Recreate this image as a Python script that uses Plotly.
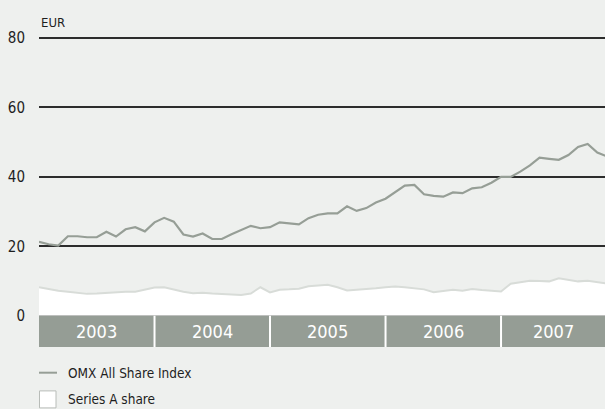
import plotly.graph_objects as go

# ---- data (monthly, Jan 2003 onwards) ----
months = list(range(60))
omx_index = [21.3, 20.6, 20.2, 22.9, 22.9, 22.6, 22.6, 24.2, 22.8, 24.9, 25.5, 24.3,
             26.9, 28.2, 27.1, 23.4, 22.8, 23.7, 22.1, 22.1, 23.5, 24.8, 25.9, 25.2,
             25.5, 26.9, 26.5, 26.3, 28.1, 29.1, 29.5, 29.5, 31.5, 30.2, 31.0, 32.6,
             33.7, 35.5, 37.5, 37.7, 35.0, 34.5, 34.3, 35.5, 35.3, 36.7, 37.0, 38.3,
             40.0, 40.0, 41.5, 43.3, 45.5, 45.2, 44.9, 46.3, 48.6, 49.5, 47.0, 45.9]
series_a = [8.2, 7.6, 7.2, 6.9, 6.6, 6.3, 6.4, 6.6, 6.8, 6.9, 6.9, 7.6,
            8.1, 8.2, 7.5, 6.9, 6.5, 6.6, 6.4, 6.3, 6.0, 6.0, 6.4, 8.2,
            6.7, 7.5, 7.6, 7.8, 8.5, 8.7, 8.9, 8.2, 7.3, 7.5, 7.6, 7.9,
            8.2, 8.4, 8.2, 8.0, 7.6, 6.8, 7.1, 7.5, 7.2, 7.7, 7.4, 7.1,
            7.0, 9.2, 9.6, 10.1, 10.0, 9.9, 10.8, 10.4, 9.9, 10.1, 9.8, 9.3]
years = ["2003", "2004", "2005", "2006", "2007"]
y_ticks = [0, 20, 40, 60, 80]
series_names = ["OMX All Share Index", "Series A share"]

# ---- style ----
FONT = "Liberation Sans Narrow, DejaVu Sans Condensed, Arial Narrow, sans-serif"
BG = "#eef0ee"
BAND = "#959d95"
LINE = "#969e96"
EDGE = "#d8dcd8"
TXT = "#1e1e1e"

X_MAX = 58.8
Y_MIN, Y_MAX = -9.0, 81.14

fig = go.Figure()

fig.add_trace(go.Scatter(
    x=months, y=series_a, mode="lines", fill="tozeroy",
    fillcolor="#ffffff", line=dict(color=EDGE, width=2),
    name=series_names[1], showlegend=False, hoverinfo="skip"))

fig.add_trace(go.Scatter(
    x=months, y=omx_index, mode="lines",
    line=dict(color=LINE, width=2.2),
    name=series_names[0], showlegend=False))

shapes = []
annotations = []
for k, yr in enumerate(years):
    x0 = 12 * k
    x1 = min(12 * (k + 1), X_MAX)
    shapes.append(dict(type="rect", xref="x", yref="y", x0=x0, x1=x1,
                       y0=Y_MIN, y1=0, fillcolor=BAND, line=dict(width=0),
                       layer="above"))
    annotations.append(dict(x=(x0 + x1) / 2, y=Y_MIN / 2, xref="x", yref="y",
                            text=yr, showarrow=False,
                            font=dict(family=FONT, size=18, color="#ffffff")))
    if k > 0:
        shapes.append(dict(type="line", xref="x", yref="y", x0=x0, x1=x0,
                           y0=Y_MIN, y1=0, line=dict(color="#ffffff", width=2),
                           layer="above"))

# EUR label
annotations.append(dict(x=0, y=1.036, xref="paper", yref="paper", text="EUR",
                        showarrow=False, xanchor="left", yanchor="middle",
                        font=dict(family=FONT, size=13, color=TXT)))

# custom legend
shapes.append(dict(type="line", xref="paper", yref="paper",
                   xsizemode="pixel", xanchor=0, x0=0, x1=18,
                   y0=-0.0821, y1=-0.0821, line=dict(color=LINE, width=2)))
shapes.append(dict(type="rect", xref="paper", yref="paper",
                   xsizemode="pixel", xanchor=0, x0=0.5, x1=17,
                   ysizemode="pixel", yanchor=-0.1674, y0=-8.5, y1=8.5,
                   fillcolor="#ffffff", line=dict(color="#b8bcb8", width=1)))
annotations.append(dict(x=0, y=-0.0821, xref="paper", yref="paper",
                        xshift=27, text=series_names[0], showarrow=False,
                        xanchor="left", yanchor="middle",
                        font=dict(family=FONT, size=13.5, color=TXT)))
annotations.append(dict(x=0, y=-0.1674, xref="paper", yref="paper",
                        xshift=27, text=series_names[1], showarrow=False,
                        xanchor="left", yanchor="middle",
                        font=dict(family=FONT, size=13.5, color=TXT)))

fig.update_layout(
    width=605, height=409,
    margin=dict(l=39, r=0, t=34, b=62),
    paper_bgcolor=BG, plot_bgcolor=BG,
    showlegend=False,
    xaxis=dict(range=[0, X_MAX], visible=False, showgrid=False, zeroline=False),
    yaxis=dict(range=[Y_MIN, Y_MAX], tickvals=y_ticks,
               ticktext=[str(v) for v in y_ticks],
               showgrid=True, gridcolor="#2c2c2c", gridwidth=1.5,
               zeroline=False, showline=False, ticks="",
               ticklabelstandoff=13,
               tickfont=dict(family=FONT, size=15, color=TXT)),
    shapes=shapes, annotations=annotations,
)

fig.write_html("out.html")
